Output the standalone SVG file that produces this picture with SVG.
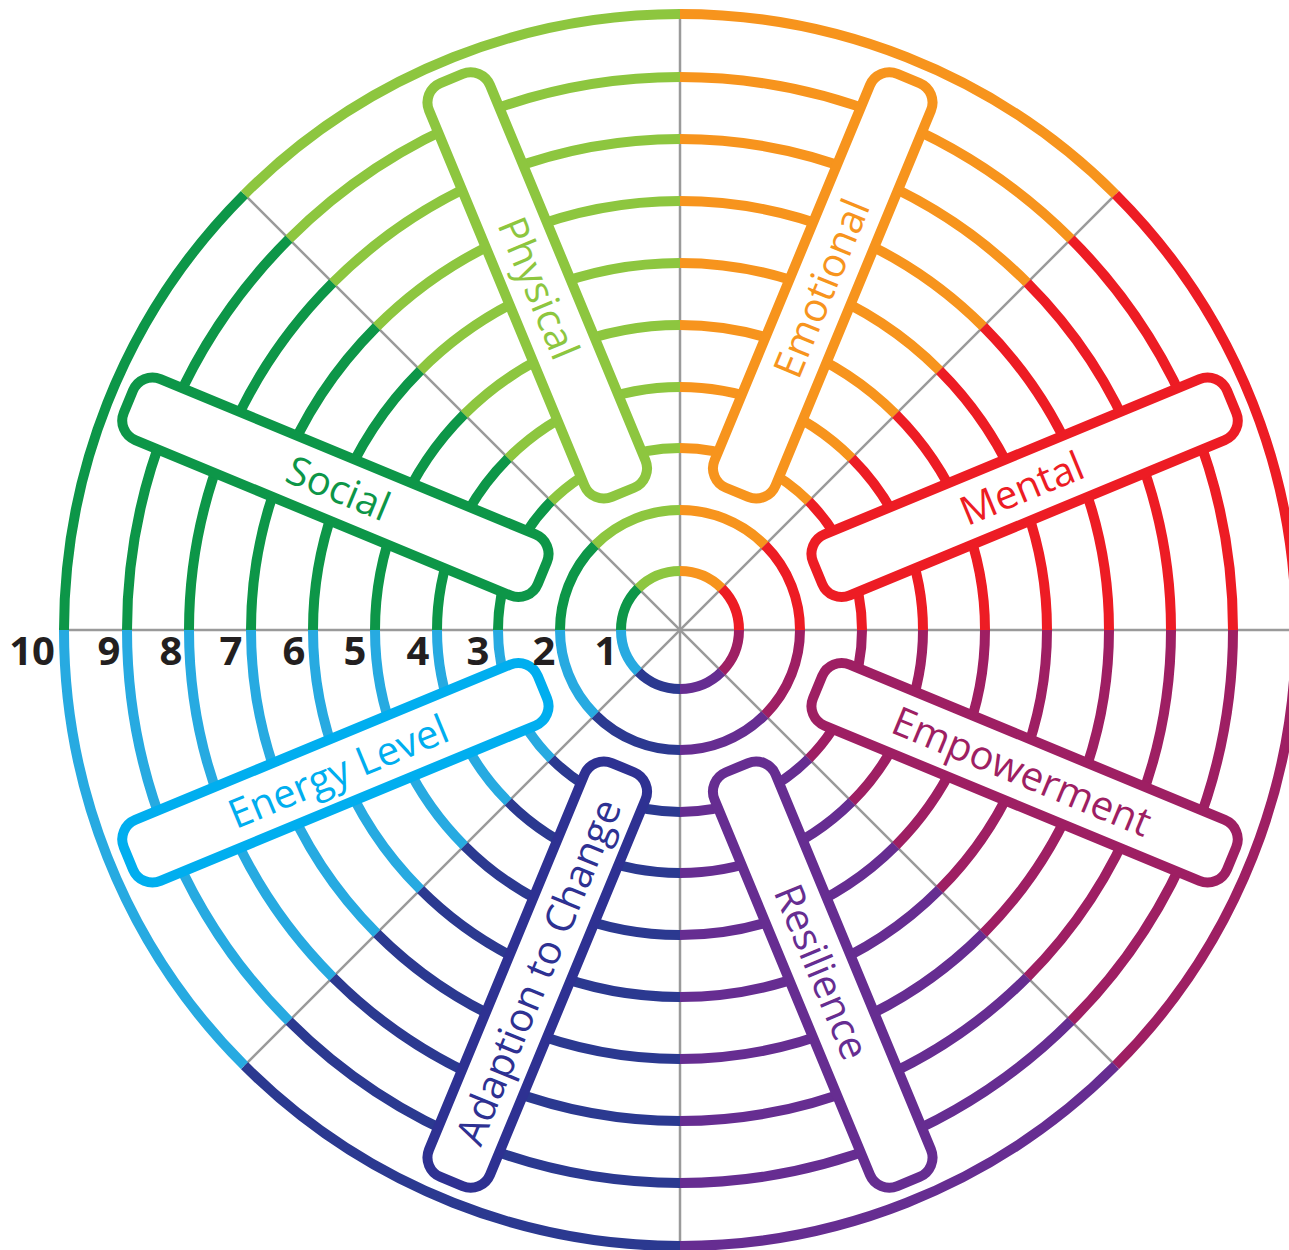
<svg xmlns="http://www.w3.org/2000/svg" xmlns:xlink="http://www.w3.org/1999/xlink" width="1289" height="1250" viewBox="0 0 1289 1250">
<style>
.rings circle{fill:none;stroke-width:10}
.axis line{stroke:#9a9a9a;stroke-width:2.5}
.bar{fill:#fff;stroke-width:10}
.lbl{font-family:"Open Sans","Liberation Sans",sans-serif;font-size:40px;text-anchor:middle}
.num{font-family:"Open Sans","Liberation Sans",sans-serif;font-size:40px;font-weight:bold;fill:#231f20;text-anchor:middle}
</style>
<defs>
<g id="rings" class="rings">
<circle r="59"/><circle r="120"/><circle r="182"/><circle r="243"/><circle r="305"/>
<circle r="367"/><circle r="429"/><circle r="491"/><circle r="553"/><circle r="616"/>
</g>
<clipPath id="w0"><polygon points="0,0 700,0 495,495"/></clipPath>
<clipPath id="w1"><polygon points="0,0 495,495 0,700"/></clipPath>
<clipPath id="w2"><polygon points="0,0 0,700 -495,495"/></clipPath>
<clipPath id="w3"><polygon points="0,0 -495,495 -700,0"/></clipPath>
<clipPath id="w4"><polygon points="0,0 -700,0 -495,-495"/></clipPath>
<clipPath id="w5"><polygon points="0,0 -495,-495 0,-700"/></clipPath>
<clipPath id="w6"><polygon points="0,0 0,-700 495,-495"/></clipPath>
<clipPath id="w7"><polygon points="0,0 495,-495 700,0"/></clipPath>
</defs>
<rect width="1289" height="1250" fill="#fff"/>
<g transform="translate(680,630)">
<g id="connectors" class="axis">
<line x1="0" y1="-616" x2="0" y2="616"/>
<line x1="-616" y1="0" x2="616" y2="0"/>
<line x1="-435.6" y1="-435.6" x2="435.6" y2="435.6"/>
<line x1="435.6" y1="-435.6" x2="-435.6" y2="435.6"/>
</g>
<g id="empowerment">
<use xlink:href="#rings" href="#rings" clip-path="url(#w0)" stroke="#9E1F63"/>
<rect class="bar" stroke="#9E1F63" x="-33" y="-597" width="66" height="448" rx="21" transform="rotate(112.5)"/>
<text class="lbl" fill="#9E1F63" dy="0.35em" transform="translate(341.8,141.6) rotate(22.5)">Empowerment</text>
</g>
<g id="resilience">
<use xlink:href="#rings" href="#rings" clip-path="url(#w1)" stroke="#662D91"/>
<rect class="bar" stroke="#662D91" x="-33" y="-597" width="66" height="448" rx="21" transform="rotate(157.5)"/>
<text class="lbl" fill="#662D91" dy="0.35em" transform="translate(141.6,341.8) rotate(67.5)">Resilience</text>
</g>
<g id="adaption">
<use xlink:href="#rings" href="#rings" clip-path="url(#w2)" stroke="#2B3990"/>
<rect class="bar" stroke="#2E3192" x="-33" y="-597" width="66" height="448" rx="21" transform="rotate(202.5)"/>
<text class="lbl" fill="#2E3192" dy="0.35em" transform="translate(-141.6,341.8) rotate(-67.5)">Adaption to Change</text>
</g>
<g id="energy">
<use xlink:href="#rings" href="#rings" clip-path="url(#w3)" stroke="#27AAE1"/>
<rect class="bar" stroke="#00AEEF" x="-33" y="-597" width="66" height="448" rx="21" transform="rotate(247.5)"/>
<text class="lbl" fill="#00AEEF" dy="0.35em" transform="translate(-341.8,141.6) rotate(-22.5)">Energy Level</text>
</g>
<g id="social">
<use xlink:href="#rings" href="#rings" clip-path="url(#w4)" stroke="#0D9648"/>
<rect class="bar" stroke="#0D9648" x="-33" y="-597" width="66" height="448" rx="21" transform="rotate(292.5)"/>
<text class="lbl" fill="#0D9648" dy="0.35em" transform="translate(-341.8,-141.6) rotate(22.5)">Social</text>
</g>
<g id="physical">
<use xlink:href="#rings" href="#rings" clip-path="url(#w5)" stroke="#8DC63F"/>
<rect class="bar" stroke="#8DC63F" x="-33" y="-597" width="66" height="448" rx="21" transform="rotate(337.5)"/>
<text class="lbl" fill="#8DC63F" dy="0.35em" transform="translate(-141.6,-341.8) rotate(67.5)">Physical</text>
</g>
<g id="emotional">
<use xlink:href="#rings" href="#rings" clip-path="url(#w6)" stroke="#F7941D"/>
<rect class="bar" stroke="#F7941D" x="-33" y="-597" width="66" height="448" rx="21" transform="rotate(22.5)"/>
<text class="lbl" fill="#F7941D" dy="0.35em" transform="translate(141.6,-341.8) rotate(-67.5)">Emotional</text>
</g>
<g id="mental">
<use xlink:href="#rings" href="#rings" clip-path="url(#w7)" stroke="#ED1C24"/>
<rect class="bar" stroke="#ED1C24" x="-33" y="-597" width="66" height="448" rx="21" transform="rotate(67.5)"/>
<text class="lbl" fill="#ED1C24" dy="0.35em" transform="translate(341.8,-141.6) rotate(-22.5)">Mental</text>
</g>
</g>
<g id="scale">
<text class="num" x="32" y="665">10</text>
<text class="num" x="109" y="665">9</text>
<text class="num" x="171" y="665">8</text>
<text class="num" x="231" y="665">7</text>
<text class="num" x="294" y="665">6</text>
<text class="num" x="355" y="665">5</text>
<text class="num" x="418" y="665">4</text>
<text class="num" x="478" y="665">3</text>
<text class="num" x="544" y="665">2</text>
<text class="num" x="606" y="665">1</text>
</g>
</svg>
